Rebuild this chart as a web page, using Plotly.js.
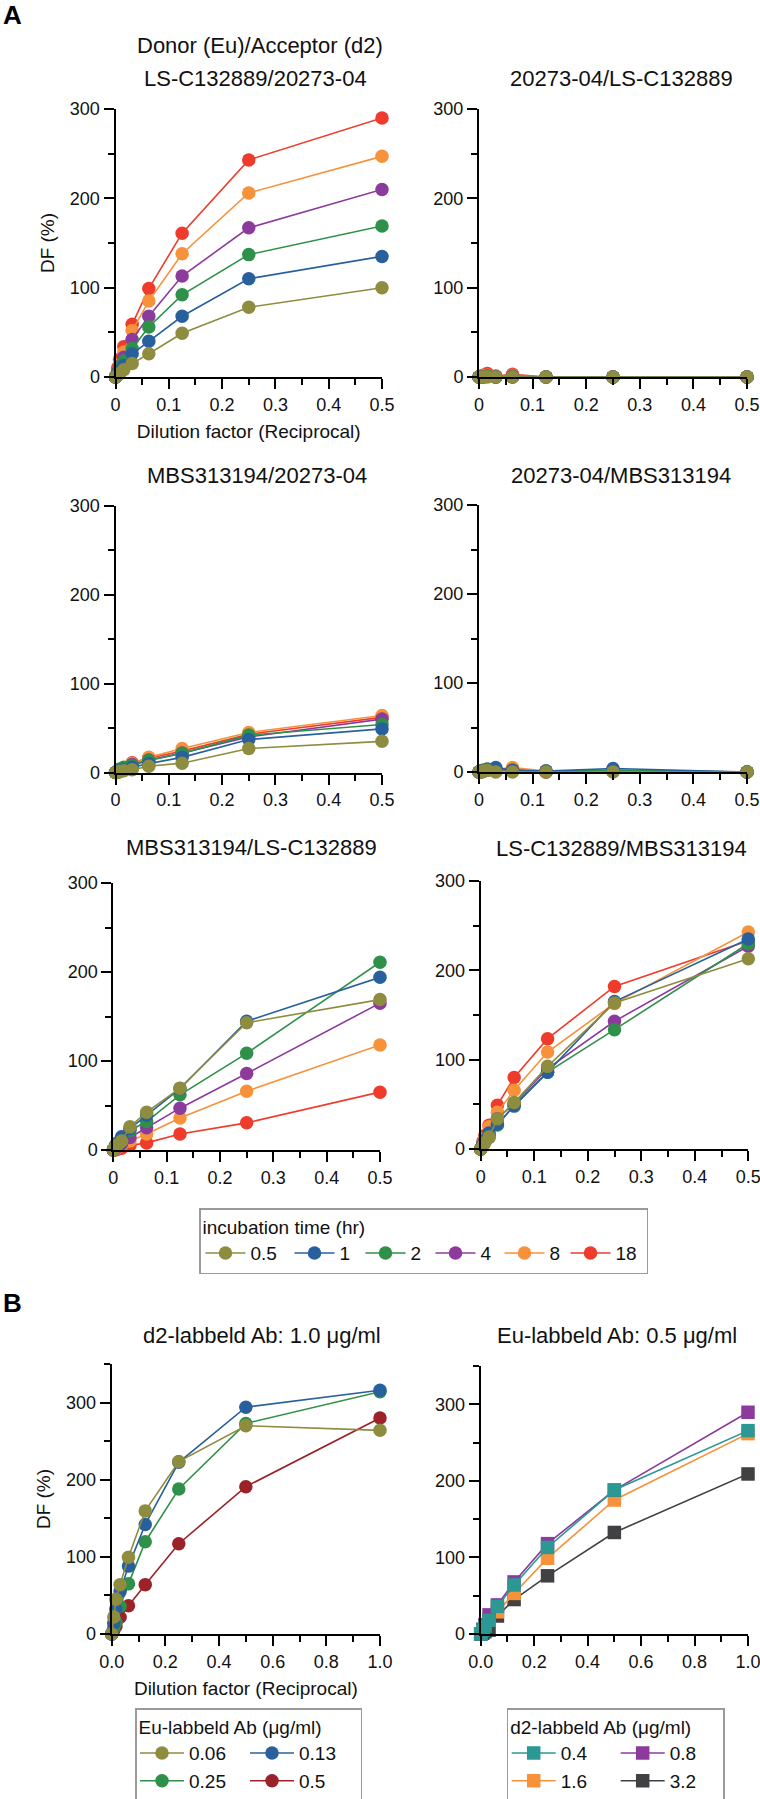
<!DOCTYPE html>
<html>
<head>
<meta charset="utf-8">
<script src="https://cdn.plot.ly/plotly-3.0.1.min.js"></script>
<style>html,body{margin:0;padding:0;background:#fff}#chart{width:760px;height:1799px}</style>
</head>
<body>
<div id="chart"></div>
<script>
// ---------------- DATA ----------------
// Panel A: dilution factor (reciprocal) and DF (%) per incubation time
const dilutionA = [0, 0.0039, 0.0078, 0.0156, 0.03125, 0.0625, 0.125, 0.25, 0.5];
const incubationTimes = ['0.5', '1', '2', '4', '8', '18'];
const titlesA = ['LS-C132889/20273-04', '20273-04/LS-C132889', 'MBS313194/20273-04',
                 '20273-04/MBS313194', 'MBS313194/LS-C132889', 'LS-C132889/MBS313194'];

// rows: 0.5, 1, 2, 4, 8, 18 hr
const panelA1 = [
  [0, 2, 4, 8, 15, 26, 49, 78, 100],
  [0, 4, 7, 13, 26, 40, 68, 110, 135],
  [0, 5, 10, 18, 32, 56, 92, 137, 169],
  [0, 6, 12, 22, 42, 68, 113, 167, 210],
  [0, 7, 14, 28, 52, 85, 138, 206, 247],
  [0, 10, 20, 34, 59, 99, 161, 243, 290]
];
const panelA2 = [
  [0, 0, 0, 0, 0, 0, 0, 0, 0],
  [0, 0, 0, -1, 0, 0, 0, 0, 0],
  [0, 0, 0, 1, 0, 0, 0, 0, 0],
  [0, 0, 0, 1, 0, 1, 0, 0, 0],
  [0, 0, 1, 2, 0, 2, 0, 0, 0],
  [0, 1, 2, 4, 1, 3, 0, 0, 0]
];
const panelA3 = [
  [0, 0, 1, 2, 3, 7, 10.5, 27, 35],
  [0, 1, 2, 3, 6, 10, 17, 37, 49],
  [0, 2, 4, 6, 8, 13.5, 21.5, 42, 54],
  [0, 1, 3, 5, 9, 14, 22, 40, 60],
  [0, -1, 1, 4, 10, 17, 27, 45, 64],
  [0, 1, 3, 5, 11, 16, 24, 43, 62]
];
const panelA4 = [
  [0, 0, 1, 2, 0, 0, 0, 0, 0],
  [0, 1, 2, 3, 5, 2, 1, 4, 0],
  [0, 1, 2, 3, 4, 2, 1, 2, 0],
  [0, 0, 1, 2, 3, 2, 0, 2, 0],
  [0, 0, 1, 2, 3, 5, 1, 1, 0],
  [0, -1, 1, 2, 2, 3, 0, 1, 0]
];
const panelA5 = [
  [0, 4, 6, 10, 26, 42.5, 69.5, 143, 169],
  [0, 5, 8, 15, 24, 39, 69, 144.7, 194],
  [0, 3, 6, 10, 22, 32, 62, 108.6, 211],
  [0, 2, 4, 7, 14, 25, 47, 86, 165],
  [0, 1, 3, 5, 10, 18, 36, 66, 118],
  [0, 0, 1, 2, 5, 8, 18, 30.5, 65]
];
const panelA6 = [
  [0, 3, 7, 13.4, 34, 52, 92.5, 163.4, 213],
  [0, 5, 10, 18, 28, 48, 86, 165, 235],
  [0, 4, 8, 13, 27, 49, 86, 133.6, 230],
  [0, 4, 9, 16, 34, 51, 90, 143, 227],
  [0, 6, 12, 25, 41, 65.7, 108.6, 163, 243],
  [0, 8, 15, 26.5, 49, 80, 123.5, 182, 233]
];

// Panel B
const dilutionB = [0, 0.0078, 0.0156, 0.03125, 0.0625, 0.125, 0.25, 0.5, 1.0];
const euConc = ['0.06', '0.13', '0.25', '0.5'];
const panelB1 = [
  [0, 22, 45, 64, 99.6, 159.6, 223.5, 270, 264],
  [0, 14, 32, 55, 88, 142, 222.6, 294, 316],
  [0, 8, 15, 36, 65, 119.6, 188, 273, 314],
  [0, 5, 10, 21.7, 36.5, 64, 117, 191, 280]
];
const d2Conc = ['0.4', '0.8', '1.6', '3.2'];
const panelB2 = [
  [0, 5, 10, 18, 36, 64, 113, 188, 265.6],
  [0, 6, 12, 25, 38, 68, 118, 188, 289.6],
  [0, 6, 12, 18, 29, 53, 99, 175, 261.7],
  [0, 1, 3, 5, 23.5, 45, 76, 132.6, 209]
];

// ---------------- STYLE / LAYOUT ----------------
const W = 760, H = 1799;
const px = v => v / W;
const py = v => 1 - v / H;
const FONT = 'Liberation Sans, Arial, Helvetica, sans-serif';
const TXT = '#111';

const colorsA = ['#8e8c3e', '#28609e', '#2f9149', '#8c3b9c', '#f7913a', '#ee3b2b'];
const colorsB1 = ['#8e8c3e', '#28609e', '#2f9149', '#9b2228'];
const colorsB2 = ['#2b9894', '#8c3b9c', '#f7913a', '#414143'];
const legendWidthA = [34, 16, 15, 14, 11, 26];

const boxesA = [
  {data: panelA1, x0: 115.5, x1: 382, y0: 109, y1: 377, tx: 255, ty: 79},
  {data: panelA2, x0: 479, x1: 747, y0: 109, y1: 377, tx: 621, ty: 79},
  {data: panelA3, x0: 115.5, x1: 382, y0: 505.5, y1: 772.5, tx: 257, ty: 476},
  {data: panelA4, x0: 479, x1: 747, y0: 505, y1: 772, tx: 621, ty: 476},
  {data: panelA5, x0: 113.3, x1: 380, y0: 883, y1: 1150, tx: 251, ty: 847},
  {data: panelA6, x0: 480.7, x1: 748.3, y0: 881, y1: 1149, tx: 621, ty: 848}
];
const boxB1 = {x0: 111.7, x1: 380, y0: 1364, y1: 1634, tx: 262, ty: 1335};
const boxB2 = {x0: 480.7, x1: 748, y0: 1366, y1: 1634, tx: 617, ty: 1335};

const traces = [];
const layout = {
  width: W, height: H,
  margin: {l: 0, r: 0, t: 0, b: 0, autoexpand: false},
  paper_bgcolor: '#fff', plot_bgcolor: '#fff',
  font: {family: FONT, color: TXT, size: 18},
  showlegend: true,
  annotations: [],
  shapes: []
};

function axisBase(range, dtick, minorDtick, fmt) {
  const a = {
    range: range, autorange: false, fixedrange: true,
    showgrid: false, zeroline: false,
    showline: true, linecolor: '#000', linewidth: 2,
    ticks: 'outside', ticklen: 10, tickwidth: 2, tickcolor: '#000',
    tick0: 0, dtick: dtick,
    ticklabeloverflow: 'allow',
    tickfont: {family: FONT, size: 18, color: TXT},
    minor: {dtick: minorDtick, ticks: 'outside', ticklen: 6, tickwidth: 2, tickcolor: '#000', showgrid: false}
  };
  if (fmt) a.tickformat = fmt;
  return a;
}

function addTitle(text, x, y) {
  layout.annotations.push({
    text: text, xref: 'paper', yref: 'paper', x: px(x), y: py(y),
    xanchor: 'center', yanchor: 'middle', showarrow: false,
    font: {family: FONT, size: 22, color: TXT}
  });
}

let axN = 0;
function addAxes(box, xr, xd, xm, xfmt, yr, withTitles) {
  axN += 1;
  const sfx = axN === 1 ? '' : String(axN);
  const xa = axisBase(xr, xd, xm, xfmt);
  xa.domain = [px(box.x0), px(box.x1)];
  xa.anchor = 'y' + sfx;
  const ya = axisBase(yr, 100, 50, null);
  ya.domain = [py(box.y1), py(box.y0)];
  ya.anchor = 'x' + sfx;
  if (withTitles) {
    xa.title = {text: 'Dilution factor (Reciprocal)', font: {family: FONT, size: 19, color: TXT}, standoff: 11};
    ya.title = {text: 'DF (%)', font: {family: FONT, size: 19, color: TXT}, standoff: 10};
  }
  layout['xaxis' + sfx] = xa;
  layout['yaxis' + sfx] = ya;
  return sfx;
}

// Panel A
boxesA.forEach((b, k) => {
  const sfx = addAxes(b, [0, 0.5], 0.1, 0.05, null, [0, 300], k === 0);
  for (let i = incubationTimes.length - 1; i >= 0; i--) {
    traces.push({
      type: 'scatter', mode: 'lines+markers',
      x: dilutionA, y: b.data[i],
      name: incubationTimes[i],
      xaxis: 'x' + sfx, yaxis: 'y' + sfx,
      line: {color: colorsA[i], width: 1.6},
      marker: {color: colorsA[i], size: 13.5, symbol: 'circle', line: {width: 0}},
      cliponaxis: false,
      legend: 'legend',
      legendwidth: legendWidthA[i],
      showlegend: k === 0,
      hoverinfo: 'skip'
    });
  }
  addTitle(titlesA[k], b.tx, b.ty);
});
addTitle('Donor (Eu)/Acceptor (d2)', 260, 45.5);

// Panel B1  (legend: column 1 = 0.06, 0.25 ; column 2 = 0.13, 0.5)
{
  const sfx = addAxes(boxB1, [0, 1], 0.2, 0.1, '.1f', [0, 350], true);
  const grp = ['b1c1', 'b1c2', 'b1c1', 'b1c2'];
  const rank = [1, 3, 2, 4];
  const lw = [51, 56, 51, 56];
  for (let i = euConc.length - 1; i >= 0; i--) {
    traces.push({
      type: 'scatter', mode: 'lines+markers',
      x: dilutionB, y: panelB1[i], name: euConc[i],
      xaxis: 'x' + sfx, yaxis: 'y' + sfx,
      line: {color: colorsB1[i], width: 1.6},
      marker: {color: colorsB1[i], size: 13.5, symbol: 'circle', line: {width: 0}},
      cliponaxis: false, legend: 'legend2', legendgroup: grp[i], legendrank: rank[i], legendwidth: lw[i],
      hoverinfo: 'skip'
    });
  }
  addTitle('d2-labbeld Ab: 1.0 μg/ml', boxB1.tx, boxB1.ty);
}
// Panel B2  (legend: column 1 = 0.4, 1.6 ; column 2 = 0.8, 3.2)
{
  const sfx = addAxes(boxB2, [0, 1], 0.2, 0.1, '.1f', [0, 350], false);
  const grp = ['b2c1', 'b2c2', 'b2c1', 'b2c2'];
  const rank = [1, 3, 2, 4];
  const lw = [50, 48, 50, 48];
  for (let i = d2Conc.length - 1; i >= 0; i--) {
    traces.push({
      type: 'scatter', mode: 'lines+markers',
      x: dilutionB, y: panelB2[i], name: d2Conc[i],
      xaxis: 'x' + sfx, yaxis: 'y' + sfx,
      line: {color: colorsB2[i], width: 1.6},
      marker: {color: colorsB2[i], size: 13.5, symbol: 'square', line: {width: 0}},
      cliponaxis: false, legend: 'legend3', legendgroup: grp[i], legendrank: rank[i], legendwidth: lw[i],
      hoverinfo: 'skip'
    });
  }
  addTitle('Eu-labbeld Ab: 0.5 μg/ml', boxB2.tx, boxB2.ty);
}

// Panel letters
layout.annotations.push({text: '<b>A</b>', xref: 'paper', yref: 'paper', x: px(1), y: py(15),
  xanchor: 'left', yanchor: 'middle', showarrow: false, font: {family: FONT, size: 26, color: '#000'}});
layout.annotations.push({text: '<b>B</b>', xref: 'paper', yref: 'paper', x: px(1), y: py(1303),
  xanchor: 'left', yanchor: 'middle', showarrow: false, font: {family: FONT, size: 26, color: '#000'}});

// Legends
const legBase = {
  orientation: 'h', xanchor: 'left', yanchor: 'top',
  bgcolor: 'rgba(255,255,255,0)', bordercolor: '#9a9a9a', borderwidth: 1.5,
  font: {family: FONT, size: 19, color: TXT},
  itemclick: false, itemdoubleclick: false
};
layout.legend = Object.assign({}, legBase, {
  x: px(199), y: py(1208), traceorder: 'reversed', itemwidth: 40,
  title: {text: 'incubation time (hr)', side: 'top', font: {family: FONT, size: 19, color: TXT}}
});
layout.legend2 = Object.assign({}, legBase, {
  x: px(135), y: py(1708), traceorder: 'grouped', tracegroupgap: 0, itemwidth: 44,
  title: {text: 'Eu-labbeld Ab (μg/ml)', side: 'top', font: {family: FONT, size: 19, color: TXT}}
});
layout.legend3 = Object.assign({}, legBase, {
  x: px(506.7), y: py(1708), traceorder: 'grouped', tracegroupgap: 0, itemwidth: 44,
  title: {text: 'd2-labbeld Ab (μg/ml)', side: 'top', font: {family: FONT, size: 19, color: TXT}}
});

Plotly.newPlot('chart', traces, layout, {displayModeBar: false, staticPlot: true});
</script>
</body>
</html>
